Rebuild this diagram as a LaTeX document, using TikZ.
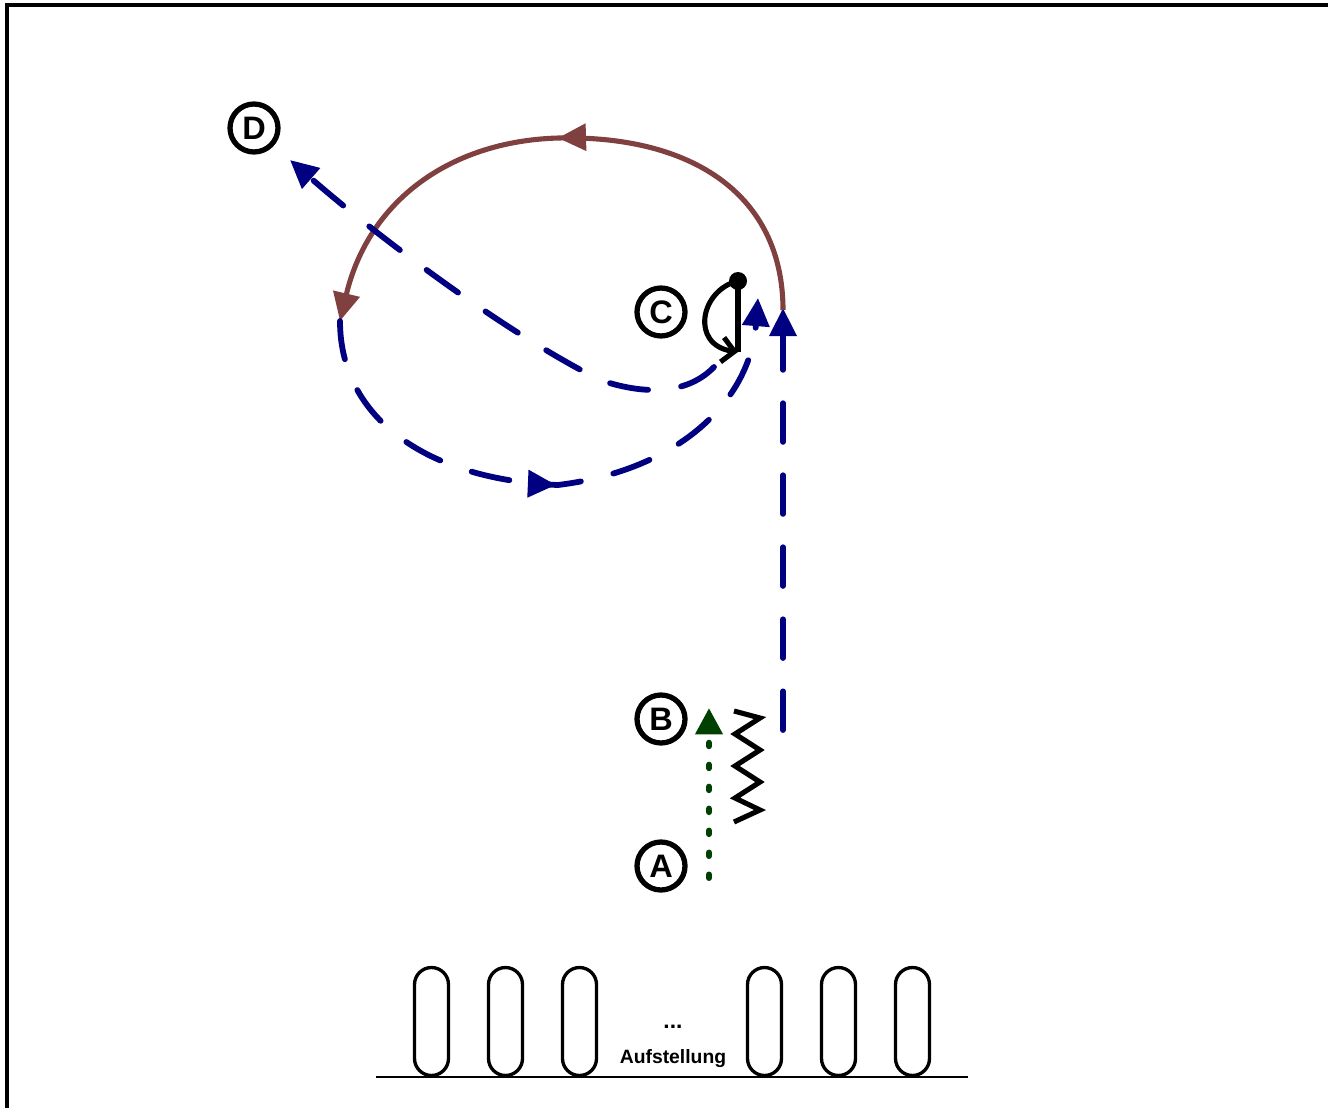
\documentclass[tikz,border=0pt]{standalone}
\usepackage{fontspec}
\setmainfont{Liberation Sans}
\usetikzlibrary{arrows.meta,decorations.markings}
\definecolor{navyc}{RGB}{0,0,128}
\definecolor{brownc}{RGB}{128,64,64}
\definecolor{darkg}{RGB}{0,64,0}
\begin{document}
\begin{tikzpicture}[x=0.02cm,y=-0.02cm,
  posmark/.style={circle,draw=black,line width=3pt,minimum size=0.96cm,inner sep=0pt,
              font=\bfseries\fontsize{18.5}{18.5}\selectfont},
  tri/.style={-{Triangle[length=16pt,width=15pt]}},
  blueline/.style={draw=navyc,line width=3.3pt,line cap=round,dash pattern=on 22pt off 19pt},
  brownline/.style={draw=brownc,line width=2.9pt},
  greenline/.style={draw=darkg,line width=3.4pt,line cap=round,dash pattern=on 2pt off 10.5pt},
  blackline/.style={draw=black,line width=2.9pt},
  midarrow/.style={postaction={decorate},decoration={markings,
     mark=at position #1 with {\arrow{Triangle[length=16pt,width=15pt]}}}},
  stall/.style={draw=black,line width=1.9pt,rounded corners=0.34cm,
     minimum width=0.68cm,minimum height=2.16cm,inner sep=0pt},
  lab/.style={font=\bfseries\fontsize{11}{11}\selectfont,inner sep=0pt}
]
\useasboundingbox (0,0) rectangle (1328,1108);
% frame
\draw[line width=1.8pt] (7,1120) -- (7,5) -- (1340,5);

% position circles
\node[posmark] (D) at (254,128) {D};
\node[posmark] (C) at (661,312) {C};
\node[posmark] (B) at (661,719) {B};
\node[posmark] (A) at (661,866) {A};

% coordinates
\coordinate (vstart) at (783,730);
\coordinate (vtop) at (783,308);
\coordinate (loopL) at (340,321);
\coordinate (loopB) at (558,485);
\coordinate (loopEnd) at (758,298);
\coordinate (cdStart) at (714,367);
\coordinate (cdMid) at (600,380);
\coordinate (dEnd) at (290,160);
\coordinate (gStart) at (709,878);
\coordinate (gEnd) at (709,708);
\coordinate (cBot) at (738,352);

% blue vertical run
\draw[blueline,tri] (vstart) -- (vtop);

% brown arc
\draw[brownline,tri,midarrow=0.51] (783,310) .. controls (783,200) and (700,140) .. (575,138)
   .. controls (460,135) and (370,195) .. (loopL);

% blue loop
\draw[blueline,tri,midarrow=0.5] (loopL) .. controls (340,420) and (430,480) .. (loopB)
   .. controls (680,470) and (750,400) .. (loopEnd);

% blue C -> D
\draw[blueline,tri] (cdStart) .. controls (690,392) and (650,397) .. (cdMid)
   .. controls (500,330) and (370,230) .. (dEnd);

% black turn at C
\node[circle,fill=black,inner sep=0pt,minimum size=0.36cm] (dot) at (738,281) {};
\draw[blackline] (dot.center) -- (cBot);
\draw[blackline,-{Straight Barb[length=7pt,width=14pt]}] (dot.center) .. controls (700,290) and (690,345) .. (cBot);

% zigzag
\draw[blackline,line join=miter] (734,711) -- (760,718) -- (735,734) -- (760,750) -- (735,766)
   -- (760,782) -- (735,798) -- (760,810) -- (734,822);

% green dotted
\draw[greenline,-{Triangle[length=15pt,width=15pt]}] (gStart) -- (gEnd);

% stalls
\foreach \i/\xx in {1/431.5,2/505.5,3/579.5,4/764.5,5/838.5,6/912.5}
  \node[stall] (s\i) at (\xx,1021.5) {};
\draw[line width=0.6pt] (376,1077) -- (968,1077);
\node[lab,font=\bfseries\fontsize{13}{13}\selectfont] (dots) at (673,1027) {...};
\node[lab] (aufst) at (673,1059) {Aufstellung};
\end{tikzpicture}
\end{document}
